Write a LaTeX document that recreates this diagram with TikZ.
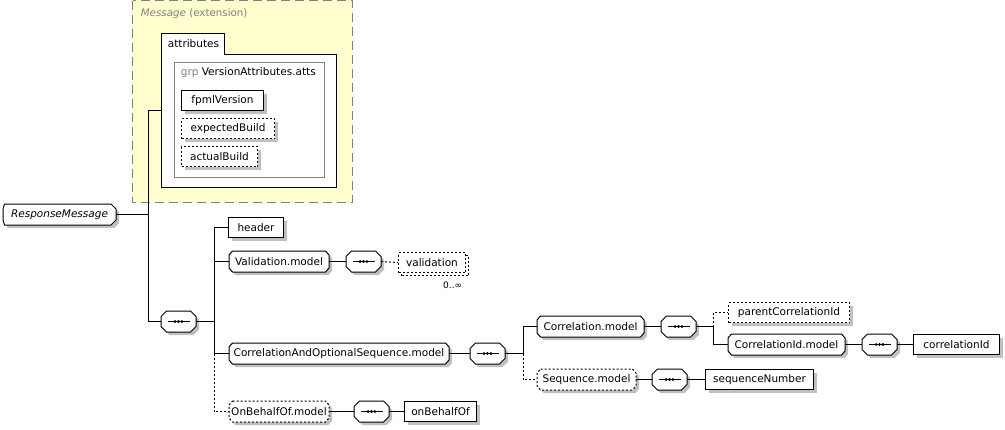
\documentclass[tikz,border=0pt]{standalone}
\usepackage{fontspec}
\newfontfamily\dv{DejaVu Sans}
\usetikzlibrary{shadows,calc}
\definecolor{msgyellow}{RGB}{255,255,208}
\definecolor{dashgray}{RGB}{128,128,128}
\definecolor{shd}{RGB}{192,192,192}
\makeatletter
\newdimen\octxa \newdimen\octya \newdimen\octxb \newdimen\octyb
\newdimen\octl \newdimen\octr \newdimen\octv
\pgfkeys{/pgf/oct left/.initial=4pt, /pgf/oct right/.initial=4pt, /pgf/oct vert/.initial=4pt}
\pgfdeclareshape{octbox}{
  \inheritsavedanchors[from=rectangle]
  \inheritanchorborder[from=rectangle]
  \inheritanchor[from=rectangle]{center}
  \inheritanchor[from=rectangle]{north}
  \inheritanchor[from=rectangle]{south}
  \inheritanchor[from=rectangle]{west}
  \inheritanchor[from=rectangle]{east}
  \inheritanchor[from=rectangle]{north west}
  \inheritanchor[from=rectangle]{north east}
  \inheritanchor[from=rectangle]{south west}
  \inheritanchor[from=rectangle]{south east}
  \inheritanchor[from=rectangle]{base}
  \inheritanchor[from=rectangle]{mid}
  \backgroundpath{
    \southwest \octxa=\pgf@x \octya=\pgf@y
    \northeast \octxb=\pgf@x \octyb=\pgf@y
    \pgfmathsetlength\octl{\pgfkeysvalueof{/pgf/oct left}}
    \pgfmathsetlength\octr{\pgfkeysvalueof{/pgf/oct right}}
    \pgfmathsetlength\octv{\pgfkeysvalueof{/pgf/oct vert}}
    \pgfpathmoveto{\pgfqpoint{\dimexpr\octxa+\octl\relax}{\octyb}}
    \pgfpathlineto{\pgfqpoint{\dimexpr\octxb-\octr\relax}{\octyb}}
    \pgfpathlineto{\pgfqpoint{\octxb}{\dimexpr\octyb-\octv\relax}}
    \pgfpathlineto{\pgfqpoint{\octxb}{\dimexpr\octya+\octv\relax}}
    \pgfpathlineto{\pgfqpoint{\dimexpr\octxb-\octr\relax}{\octya}}
    \pgfpathlineto{\pgfqpoint{\dimexpr\octxa+\octl\relax}{\octya}}
    \pgfpathlineto{\pgfqpoint{\octxa}{\dimexpr\octya+\octv\relax}}
    \pgfpathlineto{\pgfqpoint{\octxa}{\dimexpr\octyb-\octv\relax}}
    \pgfpathclose
  }
}
\makeatother
\begin{document}
\begin{tikzpicture}[x=1pt,y=-1pt,line width=1pt,
  lbl/.style={font=\dv\fontsize{10.5}{12}\selectfont, text=black},
  shadowed/.style={general shadow={fill=shd, shadow xshift=3pt, shadow yshift=-3pt}},
  elem/.style={rectangle, draw, fill=white, inner sep=0pt, minimum height=20pt, lbl, shadowed},
  opt/.style={dashed, dash pattern=on 2pt off 2pt},
  grpm/.style={shape=octbox, /pgf/oct left=3.5pt, /pgf/oct right=3.5pt, /pgf/oct vert=4pt,
     draw, fill=white, inner sep=0pt, minimum height=20pt, lbl, shadowed},
  comp/.style={grpm, /pgf/oct left=5.5pt, /pgf/oct right=5.5pt, /pgf/oct vert=5.5pt,
     minimum width=34pt, minimum height=20pt,
     path picture={
       \draw[black, line width=0.9pt] ([xshift=-11pt]path picture bounding box.center) -- ([xshift=11pt]path picture bounding box.center);
       \foreach \d in {-3.4,0,3.4} \fill[black] ([xshift=\d pt]path picture bounding box.center) circle (1.6pt);
     }},
  conn/.style={line width=1pt},
  dconn/.style={line width=1pt, opt},
]
\useasboundingbox (0,0) rectangle (1005,429);

% Message (extension) box
\fill[msgyellow] (132,0) rectangle (352.5,203);
\draw[dashgray, line width=1pt, dash pattern=on 9pt off 5pt] (132.5,0.5) rectangle (352,202.5);
\node[anchor=west, font=\dv\fontsize{10.3}{12}\selectfont, text=dashgray] (msglbl) at (137,14) {\itshape Message\upshape{} (extension)};

% attributes tab
\draw[fill=white] (161,33) -- (224,33) -- (224,54) -- (336,54) -- (336,187) -- (161,187) -- cycle;
\node[anchor=west, lbl] (attrlbl) at (164,44) {attributes};
\coordinate (attrin) at (161,110);

% group box
\draw[dashgray, fill=white] (174,62) rectangle (324,177);
\node[anchor=west, lbl] (grplbl) at (177,73) {\textcolor{dashgray}{grp} VersionAttributes.atts};

\node[elem, anchor=north west, minimum width=82pt] (fpml) at (181,90) {fpmlVersion};
\node[elem, opt, anchor=north west, minimum width=93pt] (expb) at (181,118) {expectedBuild};
\node[elem, opt, anchor=north west, minimum width=76pt] (actb) at (181,146) {actualBuild};

% root
\node[grpm, /pgf/oct left=1.5pt, /pgf/oct right=5pt, /pgf/oct vert=5pt, anchor=north west, minimum width=112pt,
      font=\dv\itshape\fontsize{10.5}{12}\selectfont] (resp) at (3,204) {ResponseMessage};

% main sequence
\node[comp, anchor=north west] (s1) at (161,311) {};

\node[elem, anchor=north west, minimum width=55pt] (header) at (228,217) {header};
\node[grpm, anchor=north west, minimum width=99pt] (valm) at (229,251) {Validation.model};
\node[comp, anchor=north west] (c2) at (346,251) {};
\node[elem, opt, anchor=north west, minimum width=67pt,
      preaction={draw, opt, fill=white, transform canvas={shift={(3pt,-3pt)}}}] (valid) at (398,252) {validation};
\node[anchor=north east, font=\dv\fontsize{9}{10}\selectfont] (card) at (466,278) {0..∞};

\node[grpm, anchor=north west, minimum width=219pt] (corrm) at (229,343) {CorrelationAndOptionalSequence.model};
\node[comp, anchor=north west] (c3) at (470,343) {};

\node[grpm, anchor=north west, minimum width=106pt] (corr) at (537,316) {Correlation.model};
\node[comp, anchor=north west] (c4) at (661,316) {};
\node[elem, opt, anchor=north west, minimum width=121pt] (pcid) at (728,302) {parentCorrelationId};
\node[grpm, anchor=north west, minimum width=116pt] (cidm) at (728,334) {CorrelationId.model};
\node[comp, anchor=north west] (c5) at (862,334) {};
\node[elem, anchor=north west, minimum width=86pt] (cid) at (913,334) {correlationId};

\node[grpm, opt, anchor=north west, minimum width=98pt] (seqm) at (537,369) {Sequence.model};
\node[comp, anchor=north west] (c6) at (652,369) {};
\node[elem, anchor=north west, minimum width=108pt] (seqn) at (705,369) {sequenceNumber};

\node[grpm, opt, anchor=north west, minimum width=99pt] (obm) at (229,401) {OnBehalfOf.model};
\node[comp, anchor=north west] (c7) at (354,401) {};
\node[elem, anchor=north west, minimum width=72pt] (obo) at (404,401) {onBehalfOf};

% connectors
\draw[conn] (resp.east) -- ++(32,0) coordinate (b0) |- (attrin);
\draw[conn] (b0) |- (s1.west);

\draw[conn] (s1.east) -- ++(18,0) coordinate (b1);
\draw[conn] (header.west) -- (header.west -| b1) -- (corrm.west -| b1) -- (corrm.west);
\draw[conn] (valm.west) -- (valm.west -| b1);
\draw[dconn] (corrm.west -| b1) |- (obm.west);

\draw[conn] (valm.east) -- (c2.west);
\draw[dconn] (c2.east) -- (valid.west);

\draw[conn] (corrm.east) -- (c3.west);
\draw[conn] (c3.east) -- ++(18,0) coordinate (b2);
\draw[conn] (corr.west) -| (b2);
\draw[dconn] (b2) |- (seqm.west);

\draw[conn] (corr.east) -- (c4.west);
\draw[conn] (c4.east) -- ++(17,0) coordinate (b3);
\draw[conn] (b3) |- (cidm.west);
\draw[dconn] (b3) |- (pcid.west);

\draw[conn] (cidm.east) -- (c5.west);
\draw[conn] (c5.east) -- (cid.west);

\draw[conn] (seqm.east) -- (c6.west);
\draw[conn] (c6.east) -- (seqn.west);

\draw[conn] (obm.east) -- (c7.west);
\draw[conn] (c7.east) -- (obo.west);
\end{tikzpicture}
\end{document}
